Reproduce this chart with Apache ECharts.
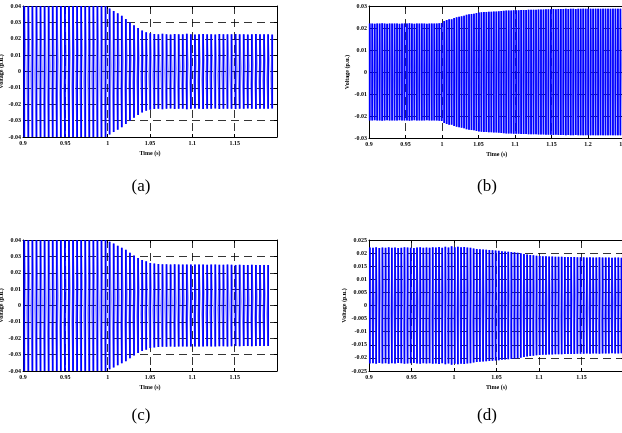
<!DOCTYPE html>
<html>
<head>
<meta charset="utf-8">
<script src="https://cdn.jsdelivr.net/npm/echarts@6/dist/echarts.min.js"></script>
<style>
  html, body { margin: 0; padding: 0; background: #fff; }
  #chart { width: 622px; height: 433px; }
</style>
</head>
<body>
<div id="chart"></div>
<script>
// panel (a): peak of each oscillation
var startA = 0.9015, stepA = 0.0048;
var ampA = [
    0.04, 0.04, 0.04, 0.04, 0.04, 0.04, 0.04, 0.04, 0.04, 0.04,
    0.04, 0.04, 0.04, 0.04, 0.04, 0.04, 0.04, 0.04, 0.04, 0.04, 0.04,
    0.0385, 0.037, 0.0355, 0.034, 0.032, 0.030, 0.0283, 0.0265, 0.025, 0.024, 0.0233,
    0.0229, 0.0227, 0.023, 0.0228, 0.0226, 0.0229, 0.0228, 0.0227, 0.023, 0.0228,
    0.0226, 0.0228, 0.0229, 0.0227, 0.0228, 0.0226, 0.0229, 0.0228, 0.0227, 0.0228,
    0.0229, 0.0227, 0.0228, 0.0226, 0.0228, 0.0229, 0.0227, 0.0228, 0.0227, 0.0226
];
// panel (b)
var startB = 0.901, stepB = 0.0034;
var ampB = [
    0.0221, 0.022, 0.0219, 0.0221, 0.022, 0.0222, 0.022, 0.0219, 0.0221, 0.022,
    0.022, 0.0221, 0.0219, 0.022, 0.0221, 0.022, 0.0222, 0.022, 0.0219, 0.0221,
    0.022, 0.0221, 0.022, 0.0219, 0.022, 0.0221, 0.022, 0.0221, 0.0222, 0.0223,
    0.0232, 0.0236, 0.024, 0.024, 0.0245, 0.0249, 0.0251, 0.0253, 0.0256, 0.026,
    0.0262, 0.0264, 0.0265, 0.0268, 0.027,
    0.0272, 0.0273, 0.0273, 0.0274, 0.0274, 0.0275, 0.0275, 0.0276, 0.0277, 0.0278, 0.0279,
    0.028, 0.028, 0.0281, 0.0281, 0.0281, 0.0282, 0.0282, 0.0282, 0.0283, 0.0283,
    0.0283, 0.0283, 0.0284, 0.0284, 0.0284,
    0.0285, 0.0285, 0.0285, 0.0286, 0.0285, 0.0286, 0.0286, 0.0286, 0.0287, 0.0286,
    0.0287, 0.0287, 0.0286, 0.0287, 0.0287, 0.0288, 0.0287, 0.0287, 0.0288, 0.0287,
    0.0288, 0.0288, 0.0287, 0.0288, 0.0288, 0.0288, 0.0287, 0.0288, 0.0288, 0.0288,
    0.0288, 0.0288
];
// panel (c)
var startC = 0.9015, stepC = 0.0048;
var ampC = [
    0.04, 0.04, 0.04, 0.04, 0.04, 0.04, 0.04, 0.04, 0.04, 0.04,
    0.04, 0.04, 0.04, 0.04, 0.04, 0.04, 0.04, 0.04, 0.04, 0.04, 0.04,
    0.039, 0.0378, 0.0365, 0.0353, 0.034, 0.0322, 0.0305, 0.029, 0.0278, 0.027, 0.026, 0.0256,
    0.0253, 0.0252, 0.0252, 0.0251, 0.0252, 0.0251, 0.025, 0.0251, 0.025, 0.025,
    0.0251, 0.025, 0.0249, 0.025, 0.025, 0.0249, 0.0249, 0.025, 0.0249, 0.0248,
    0.0249, 0.0248, 0.0248, 0.0249, 0.0248, 0.0247, 0.0248, 0.0247
];
// panel (d)
var startD = 0.901, stepD = 0.0037;
var ampD = [
    0.0221, 0.022, 0.0222, 0.0219, 0.0221, 0.022, 0.0222, 0.022, 0.0221, 0.0219,
    0.022, 0.0222, 0.0221, 0.022, 0.0219, 0.0221, 0.0222, 0.022, 0.0221, 0.022,
    0.0222, 0.0221, 0.0223, 0.022, 0.0224, 0.0221, 0.0226, 0.0222, 0.0224, 0.0222,
    0.0223, 0.0221, 0.022,
    0.0218, 0.0216, 0.0215, 0.0214, 0.0213, 0.0212, 0.0211, 0.021, 0.0209, 0.0207,
    0.0206, 0.0205, 0.0204, 0.0203, 0.0201, 0.0199, 0.0197, 0.0195, 0.0193, 0.0192,
    0.019, 0.0189, 0.0188, 0.0188,
    0.0187, 0.0187, 0.0186, 0.0186, 0.0186, 0.0185, 0.0185, 0.0185, 0.0185,
    0.0184, 0.0184, 0.0184, 0.0183, 0.0184, 0.0183, 0.0183, 0.0184, 0.0183, 0.0183,
    0.0183, 0.0182, 0.0183, 0.0183, 0.0182
];

var captions = ["(a)", "(b)", "(c)", "(d)"];
var yTicks = {
    a: { min: -0.04, max: 0.04, step: 0.01 },
    b: { min: -0.03, max: 0.03, step: 0.01 },
    c: { min: -0.04, max: 0.04, step: 0.01 },
    d: { min: -0.025, max: 0.025, step: 0.005 }
};

var font = "Liberation Serif";
var blue = "#0000ff";

function fmt(v) { return String(+v.toFixed(3)); }

// vertical swing for each cycle, broken between cycles
function stripes(t0, dt, amp) {
    var pts = [];
    amp.forEach(function (a, i) {
        var t = t0 + i * dt;
        pts.push([t, -a], [t, a], [t, "-"]);
    });
    return pts;
}
// faint trace joining the swings
function trace(t0, dt, amp) {
    var pts = [];
    amp.forEach(function (a, i) {
        var t = t0 + i * dt;
        pts.push([t, -a], [t, a]);
    });
    return pts;
}

var panels = [
    { grid: { left: 23, top: 6, width: 254, height: 131 }, x: [0.9, 1.2], y: yTicks.a, gap: 14, showMax: false, t0: startA, dt: stepA, amp: ampA },
    { grid: { left: 369, top: 6, width: 255.5, height: 132 }, x: [0.9, 1.25], y: yTicks.b, gap: 15, showMax: true, t0: startB, dt: stepB, amp: ampB },
    { grid: { left: 23, top: 240, width: 254, height: 131 }, x: [0.9, 1.2], y: yTicks.c, gap: 14, showMax: false, t0: startC, dt: stepC, amp: ampC },
    { grid: { left: 369, top: 240, width: 255, height: 131 }, x: [0.9, 1.2], y: yTicks.d, gap: 19, showMax: false, t0: startD, dt: stepD, amp: ampD }
];

var option = { animation: false, grid: [], xAxis: [], yAxis: [], series: [], graphic: [] };
var split = { show: true, lineStyle: { color: "#000", type: [8, 5], width: 0.8 } };
var labelStyle = { fontFamily: font, fontWeight: "bold", fontSize: 6, color: "#000" };
var border = { onZero: false, lineStyle: { color: "#000", width: 1 } };
var ticks = { inside: true, length: 3, lineStyle: { color: "#000" } };

panels.forEach(function (p, i) {
    option.grid.push(Object.assign({ outerBoundsMode: "none", containLabel: false }, p.grid));
    option.xAxis.push({
        type: "value", gridIndex: i, min: p.x[0], max: p.x[1], interval: 0.05,
        name: "Time (s)", nameLocation: "middle", nameGap: 13,
        nameTextStyle: labelStyle,
        axisLine: border, axisTick: ticks,
        axisLabel: Object.assign({ margin: 3, formatter: fmt, showMaxLabel: p.showMax, showMinLabel: true }, labelStyle),
        splitLine: split
    });
    option.xAxis.push({
        type: "value", gridIndex: i, position: "top", min: p.x[0], max: p.x[1], interval: 0.05,
        axisLine: border, axisTick: ticks,
        axisLabel: { show: false }, splitLine: { show: false }
    });
    option.yAxis.push({
        type: "value", gridIndex: i, min: p.y.min, max: p.y.max, interval: p.y.step,
        name: "Voltage (p.u.)", nameLocation: "middle", nameGap: p.gap,
        nameTextStyle: labelStyle,
        axisLine: border, axisTick: ticks,
        axisLabel: Object.assign({ margin: 2, formatter: fmt }, labelStyle),
        splitLine: split
    });
    option.yAxis.push({
        type: "value", gridIndex: i, position: "right", min: p.y.min, max: p.y.max, interval: p.y.step,
        axisLine: border, axisTick: ticks,
        axisLabel: { show: false }, splitLine: { show: false }
    });
    option.series.push({
        type: "line", xAxisIndex: i * 2, yAxisIndex: i * 2, data: trace(p.t0, p.dt, p.amp),
        showSymbol: false, symbol: "none", clip: true,
        lineStyle: { color: blue, width: 0.6, opacity: 0.55 }
    });
    option.series.push({
        type: "line", xAxisIndex: i * 2, yAxisIndex: i * 2, data: stripes(p.t0, p.dt, p.amp),
        showSymbol: false, symbol: "none", clip: true, connectNulls: false,
        lineStyle: { color: blue, width: 1.8 }
    });
});

var capPos = [[141, 187], [487, 187], [141, 416], [487, 416]];
captions.forEach(function (c, i) {
    option.graphic.push({
        type: "text", x: capPos[i][0], y: capPos[i][1],
        style: { text: c, fill: "#000", font: "17px \"Liberation Serif\"", align: "center", verticalAlign: "middle" }
    });
});

var chart = echarts.init(document.getElementById("chart"));
chart.setOption(option);
</script>
</body>
</html>
